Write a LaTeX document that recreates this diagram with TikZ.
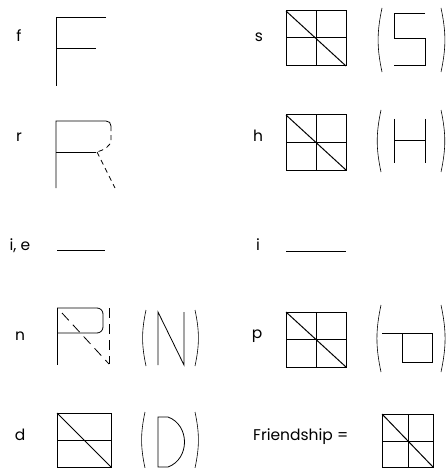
\documentclass[tikz,border=0pt]{standalone}
\usepackage{fontspec}
\setmainfont{Poppins}
\usetikzlibrary{positioning}

\begin{document}
\begin{tikzpicture}[
    x=1pt,y=-1pt,
    stroke/.style={line width=0.8pt},
    dashstroke/.style={stroke,dash pattern=on 5pt off 4pt},
    longdash/.style={stroke,dash pattern=on 10pt off 6pt},
    tile/.style={line width=1pt},
    letter/.style={font=\fontsize{15.5}{18}\selectfont,anchor=base,inner sep=0pt},
    leftparen/.style={line width=0.6pt,bend right=12},
    rightparen/.style={line width=0.6pt,bend left=12}
]
\useasboundingbox (0,0) rectangle (447,468);

% Letter labels, left column
\node[letter] (lf) at (19,42) {f};
\node[letter] (lr) at (19,142) {r};
\node[letter] (lie) at (20,250) {i, e};
\node[letter] (ln) at (20,340) {n};
\node[letter] (ld) at (20,440) {d};

% Letter labels, right column
\node[letter] (ls) at (259,42) {s};
\node[letter] (lh) at (258,142) {h};
\node[letter] (li) at (258,250) {i};
\node[letter] (lp) at (257,338) {p};
\node[letter,anchor=base west] (lfriend) at (253,440) {Friendship =};

% f: open F
\draw[stroke] (106,17) -- (56,17) -- (56,86);
\draw[stroke] (56,48) -- (96,48);

% r: F with a dashed bowl and leg
\draw[stroke] (56,188) -- (56,121) -- (106,121) .. controls (109,121) and (111,123) .. (111,126);
\draw[dashstroke] (111,126) -- (111,140) .. controls (111,146) and (104,150) .. (97,152);
\draw[stroke] (56,152) -- (96,152);
\draw[dashstroke] (97,152) -- (115,188);

% i, e: single bar
\draw[stroke] (57,250) -- (105,250);

% n: closed bowl with dashed diagonal and dashed right side
\draw[stroke] (57,308) -- (57,365);
\draw[stroke,rounded corners=6pt] (57,308) -- (103,308) -- (103,333) -- (57,333);
\draw[longdash] (62,313) -- (109,364);
\draw[longdash] (109,308) -- (109,364);
\draw[leftparen] (146,310) to (146,366);
\draw[stroke] (158,365) -- (158,312) -- (184,365) -- (184,312);
\draw[rightparen] (195,310) to (195,366);

% d: square with bar and diagonal
\draw[tile] (57,413) rectangle (111,467);
\draw[tile] (57,440) -- (111,440);
\draw[tile] (57,413) -- (111,467);
\draw[leftparen] (145,412) to (145,468);
\draw[stroke] (168,417) -- (158,417) -- (158,467) -- (168,467)
    .. controls (190,459) and (190,425) .. (168,417);
\draw[rightparen] (195,412) to (195,468);

% s, h, p: full tiles
\foreach \tname/\ttop in {s/11,h/115,p/312}{
    \draw[tile] (286,\ttop) rectangle (346,\ttop+55);
    \draw[tile] (286,\ttop+27) -- (346,\ttop+27);
    \draw[tile] (316,\ttop) -- (316,\ttop+55);
    \draw[tile] (286,\ttop) -- (346,\ttop+55);
}

% s: square S
\draw[leftparen] (382,8) to (382,72);
\draw[stroke] (425,13) -- (394,13) -- (394,38) -- (425,38) -- (425,65) -- (394,65);
\draw[rightparen] (441,8) to (441,72);

% h: square H
\draw[leftparen] (381,110) to (381,172);
\draw[stroke] (394,119) -- (394,163);
\draw[stroke] (425,119) -- (425,163);
\draw[stroke] (394,140) -- (425,140);
\draw[rightparen] (441,110) to (441,172);

% i: single bar
\draw[stroke] (286,251) -- (346,251);

% p: bar over a box
\draw[leftparen] (381,305) to (381,372);
\draw[stroke] (382,333) -- (432,333) -- (432,362) -- (402,362) -- (402,333);
\draw[rightparen] (441,305) to (441,372);

% Friendship: the combined tile
\draw[tile] (382,414) rectangle (433,467);
\draw[tile] (382,441) -- (433,441);
\draw[tile] (408,414) -- (408,467);
\draw[tile] (382,414) -- (433,467);

\end{tikzpicture}
\end{document}
